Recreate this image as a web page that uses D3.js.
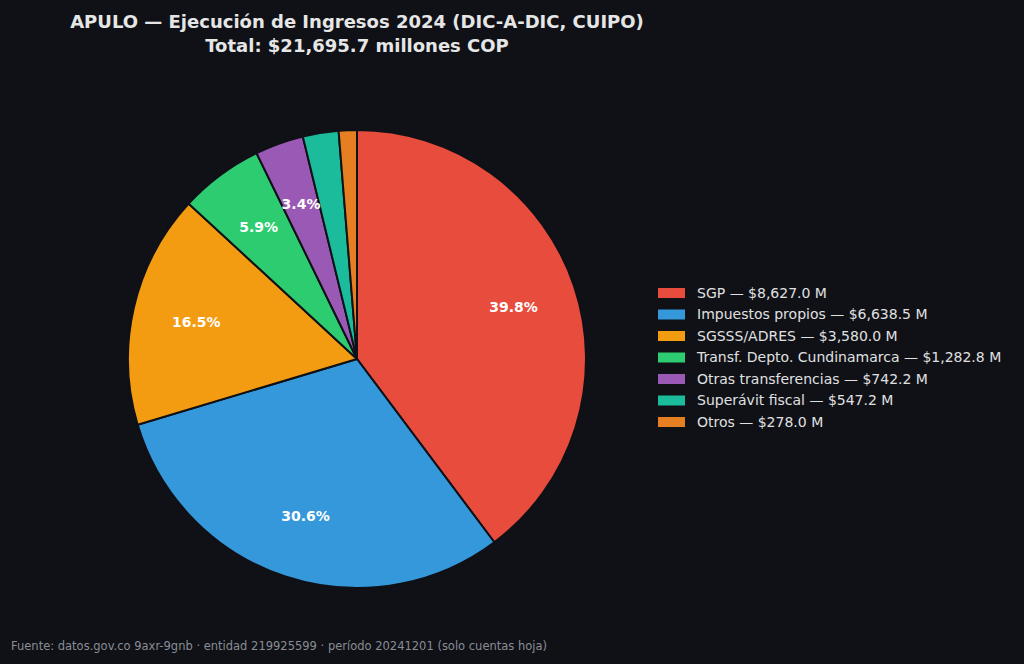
<!DOCTYPE html>
<html><head><meta charset="utf-8">
<script src="https://cdn.jsdelivr.net/npm/d3@7"></script>
<style>body{margin:0;background:#0f1117}svg{display:block;font-family:"DejaVu Sans",sans-serif}</style>
</head><body><div id="chart"></div>
<script>
const labels = ["SGP", "Impuestos propios", "SGSSS/ADRES", "Transf. Depto. Cundinamarca", "Otras transferencias", "Superávit fiscal", "Otros"]
const values = [8627.0, 6638.5, 3580.0, 1282.8, 742.2, 547.2, 278.0]
const colors = ["#e74c3c", "#3498db", "#f39c12", "#2ecc71", "#9b59b6", "#1abc9c", "#e67e22"]

const w = 1024, h = 664
const cx = 357, cy = 359, r = 229
const total = d3.sum(values)
const fmt = d3.format(",.1f")

const svg = d3.select("#chart").append("svg").attr("width", w).attr("height", h)
svg.append("rect").attr("width", w).attr("height", h).attr("fill", "#0f1117")

svg.append("text").attr("x", 357).attr("y", 28).attr("text-anchor", "middle")
  .attr("fill", "#e6e6e6").attr("font-size", 18).attr("font-weight", "bold")
  .text("APULO — Ejecución de Ingresos 2024 (DIC-A-DIC, CUIPO)")
svg.append("text").attr("x", 357).attr("y", 52).attr("text-anchor", "middle")
  .attr("fill", "#e6e6e6").attr("font-size", 18).attr("font-weight", "bold")
  .text("Total: $" + fmt(total) + " millones COP")

const pie = d3.pie().sort(null).value(d => d)
const arcs = pie(values)
const arc = d3.arc().innerRadius(0).outerRadius(r)
const labelArc = d3.arc().innerRadius(r * 0.72).outerRadius(r * 0.72)

const g = svg.append("g").attr("transform", `translate(${cx},${cy})`)
g.selectAll("path").data(arcs).enter().append("path")
  .attr("d", arc).attr("fill", (d, i) => colors[i])
  .attr("stroke", "#0f1117").attr("stroke-width", 2)

g.selectAll("text").data(arcs.filter(d => d.data / total > 0.03)).enter().append("text")
  .attr("transform", d => `translate(${labelArc.centroid(d)})`)
  .attr("text-anchor", "middle").attr("dy", "0.35em")
  .attr("fill", "#fff").attr("font-size", 14).attr("font-weight", "bold")
  .text(d => (d.data / total * 100).toFixed(1) + "%")

const leg = svg.append("g").attr("transform", "translate(658,293)")
const row = leg.selectAll("g").data(labels).enter().append("g")
  .attr("transform", (d, i) => `translate(0,${i * 21.5})`)
row.append("rect").attr("x", 0).attr("y", -5).attr("width", 27).attr("height", 10)
  .attr("fill", (d, i) => colors[i])
row.append("text").attr("x", 39).attr("dy", "0.35em").attr("fill", "#e0e0e0").attr("font-size", 14)
  .text((d, i) => d + " — $" + fmt(values[i]) + " M")

svg.append("text").attr("x", 11).attr("y", 650).attr("fill", "#8a8d94").attr("font-size", 11.5)
  .text("Fuente: datos.gov.co 9axr-9gnb · entidad 219925599 · período 20241201 (solo cuentas hoja)")
</script></body></html>
